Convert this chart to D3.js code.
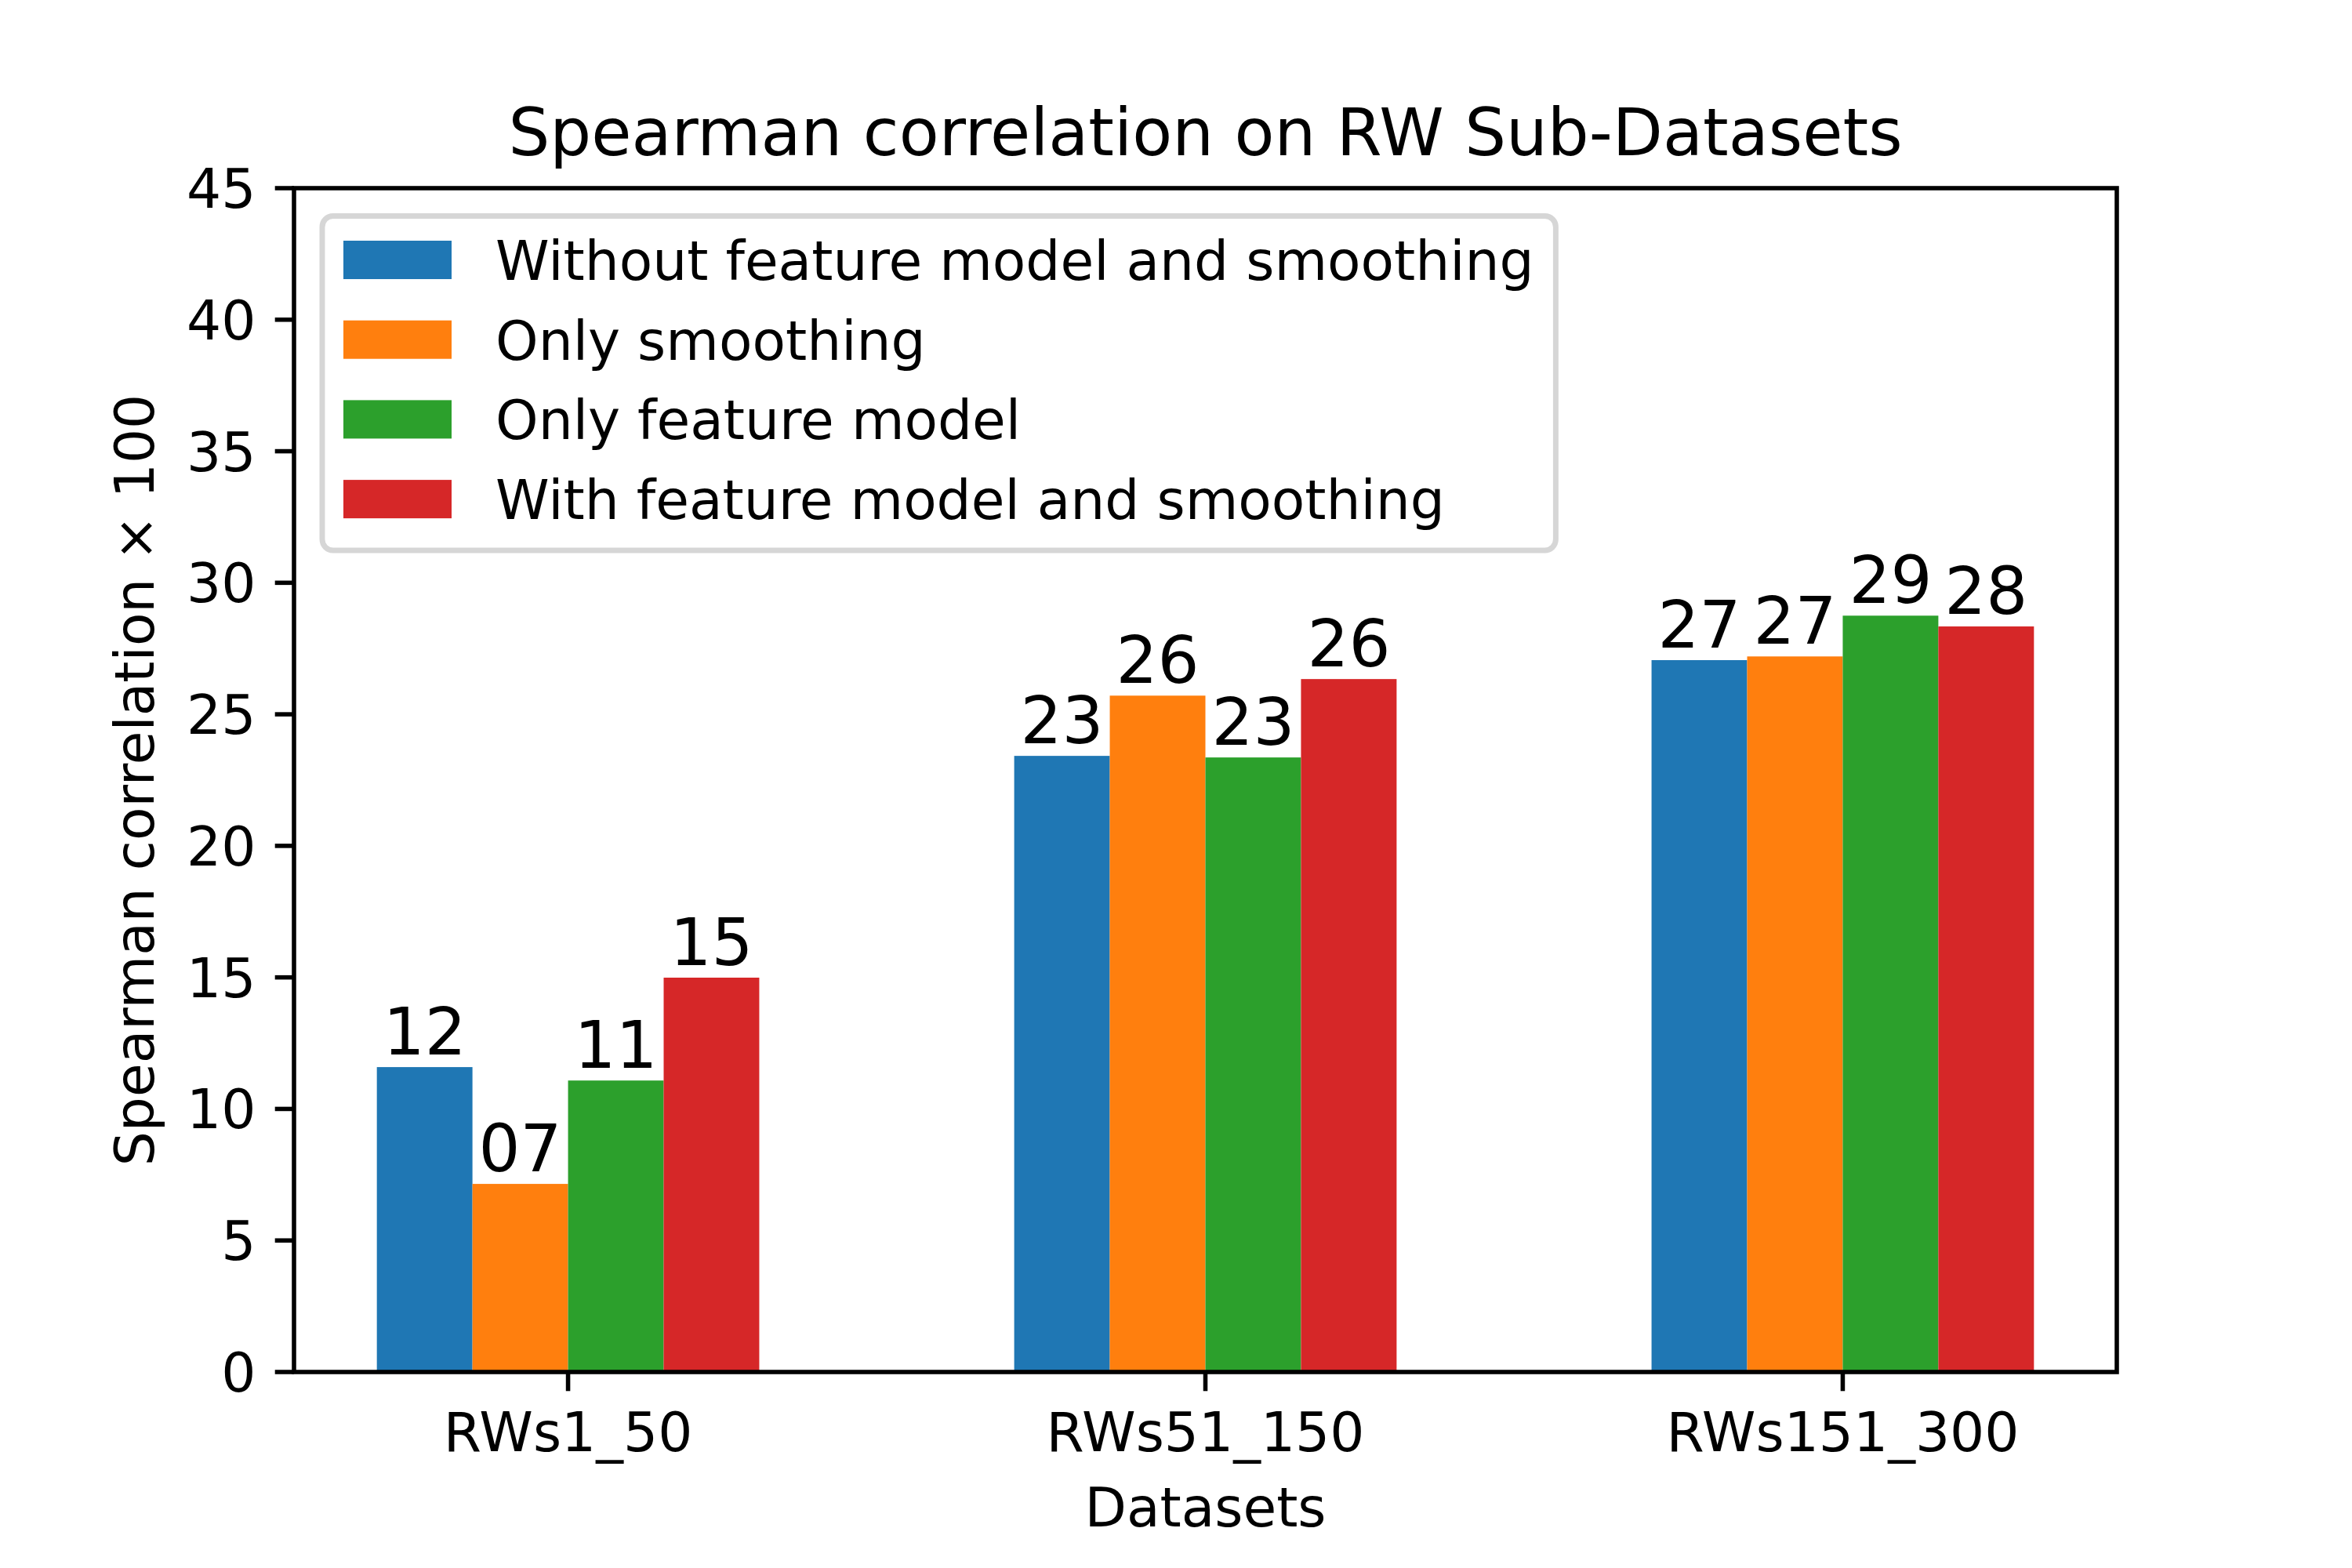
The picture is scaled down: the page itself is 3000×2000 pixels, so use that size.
<!DOCTYPE html>
<html>
<head>
<meta charset="utf-8">
<script src="https://cdn.jsdelivr.net/npm/d3@7"></script>
<style>
  html, body { margin: 0; padding: 0; background: #ffffff; }
  svg { display: block; }
  text { font-family: "DejaVu Sans", sans-serif; fill: #000; }
</style>
</head>
<body>
<svg id="chart" width="3000" height="2000"></svg>
<script>
// ---- data ----
const categories = ["RWs1_50", "RWs51_150", "RWs151_300"];
const seriesNames = [
  "Without feature model and smoothing",
  "Only smoothing",
  "Only feature model",
  "With feature model and smoothing"
];
const withoutBoth   = [11.59, 23.42, 27.06];
const onlySmoothing = [7.15, 25.71, 27.20];
const onlyFeature   = [11.08, 23.36, 28.75];
const withBoth      = [14.99, 26.34, 28.34];
const seriesValues = [withoutBoth, onlySmoothing, onlyFeature, withBoth];
const colors = ["#1f77b4", "#ff7f0e", "#2ca02c", "#d62728"];
const yTicks = [0, 5, 10, 15, 20, 25, 30, 35, 40, 45];
const titleText = "Spearman correlation on RW Sub-Datasets";
const xLabelText = "Datasets";
const yLabelText = "Spearman correlation \u00d7 100";

// ---- layout (matplotlib-like, 500 dpi) ----
const pt = 500 / 72;
const L = 375, R = 2700, T = 240, B = 1750;
const fs = 10 * pt, fsBig = 12 * pt;
const lw = 0.8 * pt, tickLen = 3.5 * pt, tickPad = 3.5 * pt;
const barW = 0.15;

const svg = d3.select("#chart");

const x = d3.scaleLinear().domain([-0.43, 2.43]).range([L, R]);
const y = d3.scaleLinear().domain([0, 45]).range([B, T]);

// bars
const gBars = svg.append("g");
seriesValues.forEach((vals, s) => {
  const off = -0.3 + s * barW;
  gBars.selectAll(null).data(vals).enter().append("rect")
    .attr("x", (d, i) => x(i + off))
    .attr("width", (d, i) => x(i + off + barW) - x(i + off))
    .attr("y", d => y(d))
    .attr("height", d => y(0) - y(d))
    .attr("fill", colors[s]);
  gBars.selectAll(null).data(vals).enter().append("text")
    .attr("x", (d, i) => x(i + off + barW / 2))
    .attr("y", d => y(d) - 16)
    .attr("text-anchor", "middle")
    .attr("font-size", fsBig)
    .text(d => d3.format("02d")(Math.round(d)));
});

// axes
const yAxis = d3.axisLeft(y).tickValues(yTicks).tickSize(tickLen).tickPadding(tickPad).offset(0);
const gy = svg.append("g").attr("transform", `translate(${L},0)`).call(yAxis);
gy.select(".domain").remove();
gy.selectAll(".tick line").attr("stroke", "#000").attr("stroke-width", lw);
gy.selectAll(".tick text").attr("font-size", fs).attr("font-family", "DejaVu Sans")
  .attr("fill", "#000").attr("dy", null).attr("y", 25).attr("x", -(tickLen + tickPad));

const xAxis = d3.axisBottom(x).tickValues(categories.map((c, i) => i))
  .tickFormat(i => categories[i]).tickSize(tickLen).tickPadding(tickPad).offset(0);
const gx = svg.append("g").attr("transform", `translate(0,${B})`).call(xAxis);
gx.select(".domain").remove();
gx.selectAll(".tick line").attr("stroke", "#000").attr("stroke-width", lw);
gx.selectAll(".tick text").attr("font-size", fs).attr("font-family", "DejaVu Sans")
  .attr("fill", "#000").attr("dy", null).attr("y", 101);

// frame
svg.append("rect").attr("x", L).attr("y", T).attr("width", R - L).attr("height", B - T)
  .attr("fill", "none").attr("stroke", "#000").attr("stroke-width", lw);

// title & labels
svg.append("text").attr("x", (L + R) / 2).attr("y", 198).attr("text-anchor", "middle")
  .attr("font-size", fsBig).text(titleText);
svg.append("text").attr("x", (L + R) / 2).attr("y", 1947).attr("text-anchor", "middle")
  .attr("font-size", fs).text(xLabelText);
svg.append("text").attr("transform", `translate(196,${(T + B) / 2}) rotate(-90)`)
  .attr("text-anchor", "middle").attr("font-size", fs).text(yLabelText);

// legend
const lg = svg.append("g");
const frame = lg.append("rect");
const lx = 411, ly = 275.5, rowH = 101.7;
const handleX = 438, handleW = 138, handleH = 49, handleTop = 307;
const textX = 632;
let maxW = 0;
seriesNames.forEach((name, i) => {
  lg.append("rect").attr("x", handleX).attr("y", handleTop + i * rowH)
    .attr("width", handleW).attr("height", handleH).attr("fill", colors[i]);
  const t = lg.append("text").attr("x", textX).attr("y", handleTop + handleH + 1 + i * rowH)
    .attr("font-size", fs).text(name);
  maxW = Math.max(maxW, t.node().getComputedTextLength());
});
frame.attr("x", lx).attr("y", ly)
  .attr("width", textX + maxW + 0.4 * fs - lx).attr("height", 702 - ly)
  .attr("rx", 0.2 * fs).attr("ry", 0.2 * fs)
  .attr("fill", "#ffffff").attr("fill-opacity", 0.8)
  .attr("stroke", "#cccccc").attr("stroke-opacity", 0.8).attr("stroke-width", 1.0 * pt);
</script>
</body>
</html>
